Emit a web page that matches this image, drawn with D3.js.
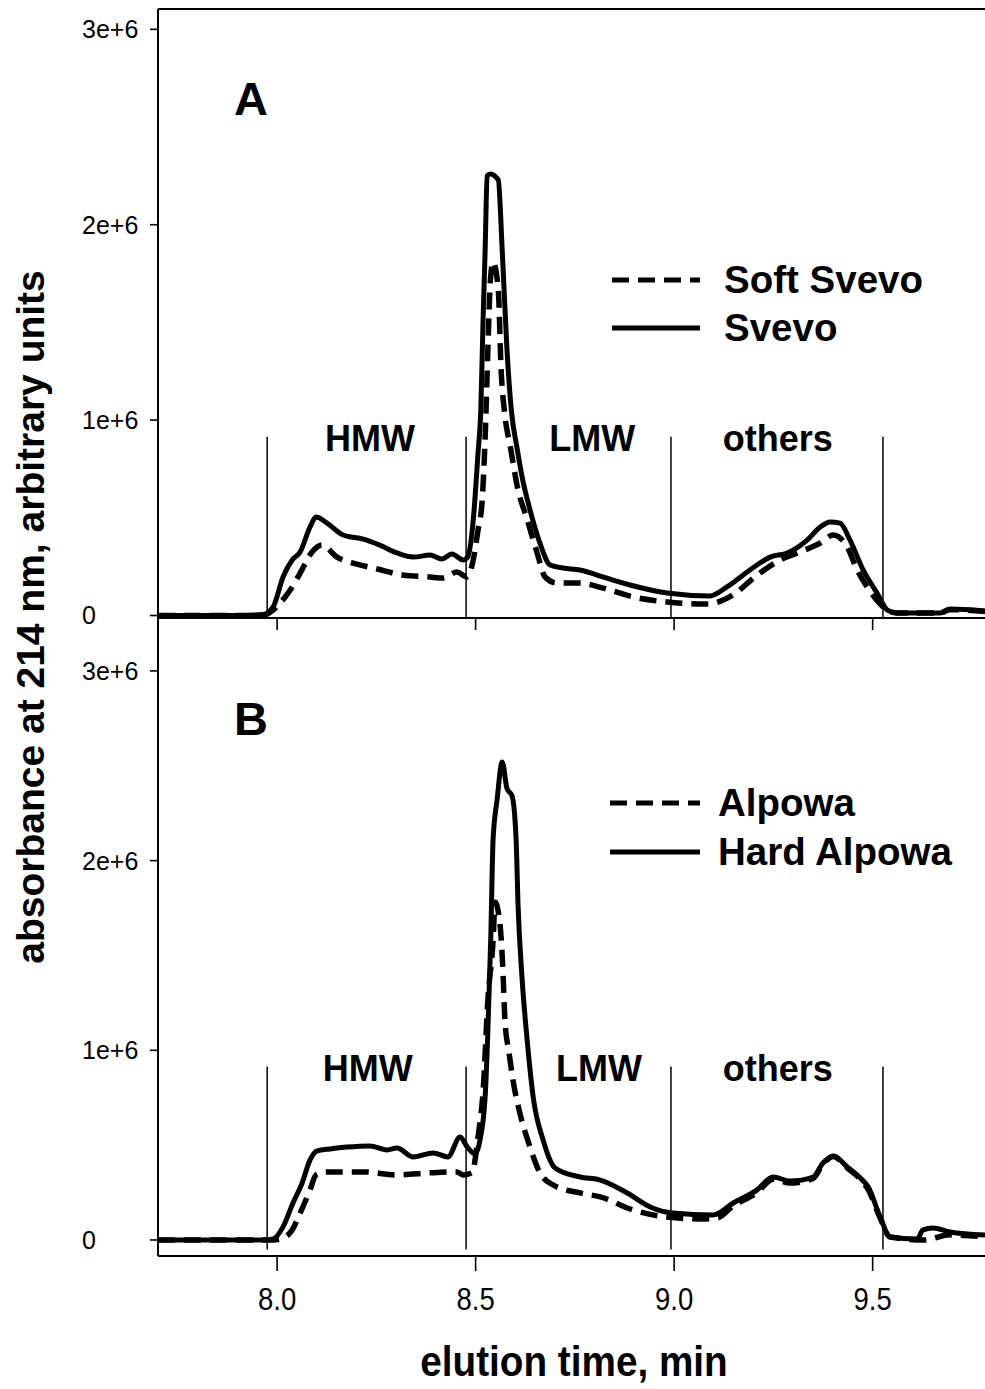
<!DOCTYPE html>
<html><head><meta charset="utf-8">
<script src="https://cdn.jsdelivr.net/npm/d3@7"></script>
<style>body{margin:0;background:#fff}svg{display:block}</style>
</head><body><svg id="c" width="985" height="1389"></svg>
<script>
// ---------- DATA (time in min, absorbance in arbitrary units x1e6) ----------
const svevo = [[7.70,0],[7.80,0],[7.90,0],[7.965,0.005],[7.99,0.044],[8.015,0.197],[8.038,0.284],[8.058,0.325],[8.083,0.453],[8.098,0.504],[8.126,0.473],[8.166,0.412],[8.217,0.391],[8.259,0.360],[8.302,0.320],[8.343,0.299],[8.385,0.309],[8.415,0.289],[8.44,0.315],[8.469,0.284],[8.48,0.299],[8.494,0.488],[8.506,0.83],[8.513,1.05],[8.519,1.53],[8.524,1.87],[8.529,2.25],[8.537,2.26],[8.557,2.23],[8.567,1.87],[8.579,1.36],[8.590,1.05],[8.605,0.85],[8.617,0.71],[8.637,0.54],[8.662,0.37],[8.688,0.258],[8.720,0.243],[8.763,0.233],[8.806,0.207],[8.846,0.181],[8.889,0.156],[8.982,0.115],[9.09,0.10],[9.133,0.146],[9.191,0.233],[9.242,0.299],[9.285,0.32],[9.335,0.386],[9.368,0.453],[9.393,0.479],[9.418,0.473],[9.443,0.386],[9.476,0.233],[9.511,0.115],[9.537,0.028],[9.562,0.013],[9.67,0.013],[9.695,0.033],[9.783,0.023]];
const softSvevo = [[7.70,0],[7.80,0],[7.90,0],[7.965,0],[7.99,0.028],[8.008,0.064],[8.033,0.13],[8.058,0.217],[8.088,0.325],[8.113,0.361],[8.151,0.299],[8.201,0.263],[8.252,0.238],[8.317,0.207],[8.385,0.197],[8.418,0.192],[8.453,0.222],[8.478,0.197],[8.494,0.284],[8.506,0.437],[8.516,0.576],[8.524,0.91],[8.531,1.37],[8.537,1.71],[8.544,1.81],[8.557,1.67],[8.564,1.27],[8.574,1.02],[8.587,0.87],[8.605,0.66],[8.63,0.49],[8.655,0.32],[8.675,0.197],[8.705,0.166],[8.763,0.166],[8.821,0.14],[8.897,0.095],[8.982,0.069],[9.083,0.059],[9.148,0.105],[9.209,0.207],[9.267,0.284],[9.317,0.325],[9.368,0.371],[9.401,0.412],[9.436,0.35],[9.461,0.233],[9.486,0.146],[9.506,0.09],[9.537,0.028],[9.562,0.013],[9.67,0.013],[9.695,0.03],[9.783,0.02]];
const hardAlpowa = [[7.70,0],[7.80,0],[7.90,0],[7.97,0],[7.99,0.005],[8.015,0.069],[8.04,0.195],[8.063,0.30],[8.083,0.422],[8.101,0.47],[8.133,0.48],[8.176,0.49],[8.234,0.496],[8.277,0.475],[8.302,0.485],[8.343,0.438],[8.393,0.459],[8.43,0.438],[8.461,0.543],[8.479,0.49],[8.499,0.454],[8.511,0.527],[8.524,0.754],[8.530,1.05],[8.538,1.58],[8.544,2.11],[8.554,2.32],[8.567,2.52],[8.579,2.38],[8.592,2.34],[8.602,2.11],[8.607,1.76],[8.617,1.38],[8.63,1.05],[8.645,0.754],[8.670,0.527],[8.700,0.38],[8.763,0.332],[8.814,0.316],[8.882,0.248],[8.94,0.174],[8.997,0.142],[9.098,0.132],[9.149,0.195],[9.209,0.264],[9.249,0.332],[9.292,0.311],[9.350,0.332],[9.375,0.406],[9.401,0.443],[9.436,0.385],[9.469,0.327],[9.489,0.279],[9.519,0.121],[9.544,0.016],[9.612,0.005],[9.627,0.053],[9.652,0.063],[9.695,0.042],[9.783,0.026]];
const alpowa = [[7.70,0],[7.80,0],[7.90,0],[7.99,0],[8.008,0.005],[8.038,0.053],[8.058,0.142],[8.083,0.264],[8.098,0.343],[8.126,0.359],[8.217,0.359],[8.302,0.343],[8.385,0.354],[8.453,0.359],[8.469,0.343],[8.491,0.354],[8.506,0.543],[8.519,0.79],[8.531,1.27],[8.544,1.58],[8.549,1.78],[8.562,1.65],[8.569,1.41],[8.574,1.15],[8.584,0.99],[8.594,0.844],[8.612,0.665],[8.637,0.49],[8.662,0.354],[8.695,0.29],[8.763,0.248],[8.814,0.227],[8.897,0.158],[8.982,0.121],[9.065,0.111],[9.108,0.116],[9.149,0.18],[9.209,0.25],[9.249,0.32],[9.292,0.30],[9.350,0.325],[9.375,0.40],[9.401,0.44],[9.436,0.38],[9.469,0.32],[9.489,0.265],[9.519,0.115],[9.544,0.016],[9.63,0],[9.695,0.027],[9.783,0.016]];

const xTicks = [8.0, 8.5, 9.0, 9.5];
const xTickLabels = ["8.0", "8.5", "9.0", "9.5"];
const yTicks = [0, 1, 2, 3];
const yTickLabels = ["0", "1e+6", "2e+6", "3e+6"];
const regionBounds = [7.975, 8.476, 8.992, 9.526];
const regionLabels = ["HMW", "LMW", "others"];
const legendA = ["Soft Svevo", "Svevo"];
const legendB = ["Alpowa", "Hard Alpowa"];

// ---------- LAYOUT ----------
const svg = d3.select("#c");
const FONT = "'Liberation Sans', Arial, Helvetica, sans-serif";
const x = d3.scaleLinear().domain([7.7, 9.783]).range([158, 985]);
const yA = d3.scaleLinear().domain([-0.0128, 3.104]).range([618, 9]);
const yB = d3.scaleLinear().domain([-0.0844, 3.279]).range([1256, 618]);

const panels = [
  {y: yA, dashed: softSvevo, solid: svevo, letter: "A", letterY: 115, legend: legendA,
   labelT: [8.234, 8.7935, 9.261], legendY: [280, 328], legendX: 612, legendTX: 724, xTickLen: 12, divBottom: -0.0128},
  {y: yB, dashed: alpowa, solid: hardAlpowa, letter: "B", letterY: 735, legend: legendB,
   labelT: [8.228, 8.811, 9.261], legendY: [803, 852], legendX: 610, legendTX: 718, xTickLen: 15, divBottom: -0.05}
];

const DASH = "17,9";

panels.forEach(p => {
  const y = p.y;
  const g = svg.append("g");
  const line = d3.line().x(d => x(d[0])).y(d => y(d[1])).curve(d3.curveMonotoneX);

  g.append("line").attr("x1", 158).attr("x2", 985)
    .attr("y1", y.range()[0]).attr("y2", y.range()[0])
    .attr("stroke", "#000").attr("stroke-width", 2);
  g.selectAll(".xt").data(xTicks).join("line")
    .attr("x1", d => x(d)).attr("x2", d => x(d))
    .attr("y1", y.range()[0]).attr("y2", y.range()[0] + p.xTickLen)
    .attr("stroke", "#000").attr("stroke-width", 1.6);
  g.selectAll(".yt").data(yTicks).join("line")
    .attr("x1", 150).attr("x2", 158)
    .attr("y1", d => y(d)).attr("y2", d => y(d))
    .attr("stroke", "#000").attr("stroke-width", 1.6);
  g.selectAll(".ytl").data(yTicks).join("text")
    .attr("x", 82).attr("y", d => y(d) + 9)
    .attr("font-family", FONT).attr("font-size", 25)
    .text((d, i) => yTickLabels[i]);

  g.selectAll(".div").data(regionBounds).join("line")
    .attr("x1", d => x(d)).attr("x2", d => x(d))
    .attr("y1", y(0.915)).attr("y2", y(p.divBottom))
    .attr("stroke", "#000").attr("stroke-width", 1.5);
  g.selectAll(".rl").data(regionLabels).join("text")
    .attr("x", (d, i) => x(p.labelT[i])).attr("y", y(0.84))
    .attr("text-anchor", "middle").attr("font-family", FONT)
    .attr("font-weight", "bold").attr("font-size", 36)
    .text(d => d);

  g.append("path").datum(p.dashed).attr("d", line)
    .attr("fill", "none").attr("stroke", "#000").attr("stroke-width", 5.5)
    .attr("stroke-dasharray", DASH);
  g.append("path").datum(p.solid).attr("d", line)
    .attr("fill", "none").attr("stroke", "#000").attr("stroke-width", 5)
    .attr("stroke-linejoin", "round");

  g.append("text").attr("x", 234).attr("y", p.letterY)
    .attr("font-family", FONT).attr("font-weight", "bold").attr("font-size", 47)
    .text(p.letter);

  p.legend.forEach((name, i) => {
    const ly = p.legendY[i];
    g.append("line").attr("x1", p.legendX).attr("x2", 700)
      .attr("y1", ly).attr("y2", ly).attr("stroke", "#000").attr("stroke-width", 5)
      .attr("stroke-dasharray", i === 0 ? DASH : null);
    g.append("text").attr("x", p.legendTX).attr("y", ly + 13)
      .attr("font-family", FONT).attr("font-weight", "bold").attr("font-size", 38.5)
      .text(name);
  });
});

svg.append("line").attr("x1", 158).attr("x2", 158).attr("y1", 9).attr("y2", 1256)
  .attr("stroke", "#000").attr("stroke-width", 2);
svg.append("line").attr("x1", 158).attr("x2", 985).attr("y1", 9).attr("y2", 9)
  .attr("stroke", "#000").attr("stroke-width", 2);

svg.selectAll(".xtl").data(xTicks).join("text")
  .attr("transform", d => `translate(${x(d)},1310) scale(0.86,1)`)
  .attr("text-anchor", "middle").attr("font-family", FONT).attr("font-size", 32)
  .text((d, i) => xTickLabels[i]);

svg.append("text").attr("transform", "translate(574,1376) scale(0.9,1)")
  .attr("text-anchor", "middle").attr("font-family", FONT)
  .attr("font-weight", "bold").attr("font-size", 43)
  .text("elution time, min");
svg.append("text").attr("transform", "translate(44,617) rotate(-90)")
  .attr("text-anchor", "middle").attr("font-family", FONT)
  .attr("font-weight", "bold").attr("font-size", 39)
  .text("absorbance at 214 nm, arbitrary units");
</script></body></html>
